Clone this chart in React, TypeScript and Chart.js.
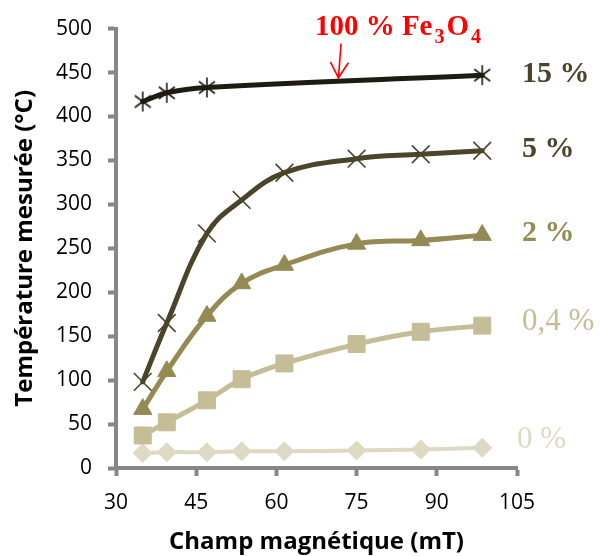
import React, { useEffect, useRef } from 'react';
import { Chart, registerables } from 'chart.js';

Chart.register(...registerables);

// ---- Data ----
const fieldAll = [35, 39.5, 47, 53.5, 61.5, 75, 87, 98.5];
const field15 = [35, 39.5, 47, 98.5];
const temp15 = [417, 427, 433, 447];
const temp5 = [98, 165, 267, 305, 336, 352, 357, 361];
const temp2 = [67, 110, 173, 210, 231, 255, 259, 265];
const temp04 = [37, 52, 77, 101, 119, 141, 155, 162];
const temp0 = [17, 18, 18, 19, 19, 20, 21, 23];

const seriesLabels = ['15 %', '5 %', '2 %', '0,4 %', '0 %'];
const seriesColors = ['#1e1c11', '#4a452a', '#948a54', '#c4bd97', '#ddd9c3'];
const labelColors = ['#4a452a', '#4a452a', '#948a54', '#c4bd97', '#ddd9c3'];
const labelValues = [448, 363, 267, 166, 32];
const labelBold = [true, true, true, false, false];

const xTitle = 'Champ magnétique (mT)';
const yTitle = 'Température mesurée (°C)';
const annotMain = '100 % Fe';
const annotSub1 = '3';
const annotO = 'O';
const annotSub2 = '4';
const annotX = 67.2;
const arrowFrom = { x: 72.1, y: 483 };
const arrowTo = { x: 71.6, y: 444 };

const toPts = (xs: number[], ys: number[]) => xs.map((v, i) => ({ x: v, y: ys[i] }));

function makeAsterisk(size: number, color: string, lw: number) {
  const c = document.createElement('canvas');
  c.width = size;
  c.height = size;
  const ctx = c.getContext('2d')!;
  ctx.strokeStyle = color;
  ctx.lineWidth = lw;
  const m = size / 2;
  const r = size / 2 - 1;
  const d = r * 0.8;
  ctx.beginPath();
  ctx.moveTo(m, m - r);
  ctx.lineTo(m, m + r);
  ctx.moveTo(m - d, m - d * 0.75);
  ctx.lineTo(m + d, m + d * 0.75);
  ctx.moveTo(m + d, m - d * 0.75);
  ctx.lineTo(m - d, m + d * 0.75);
  ctx.stroke();
  return c;
}

const annotPlugin = {
  id: 'annot',
  afterDraw(chart: any) {
    const { ctx, chartArea } = chart;
    const xs = chart.scales.x;
    const ys = chart.scales.y;
    ctx.save();
    // series labels at right
    ctx.textBaseline = 'middle';
    ctx.textAlign = 'left';
    seriesLabels.forEach((t, i) => {
      ctx.font = `${labelBold[i] ? 'bold 30px' : '31px'} "Liberation Serif"`;
      ctx.fillStyle = labelColors[i];
      const off = i === 4 ? 0 : 5;
      ctx.fillText(t, chartArea.right + off, ys.getPixelForValue(labelValues[i]));
    });
    // red annotation
    ctx.fillStyle = '#ff0000';
    ctx.strokeStyle = '#ff0000';
    ctx.textBaseline = 'alphabetic';
    const base = chartArea.top + 6;
    let px = xs.getPixelForValue(annotX);
    const big = 'bold 29px "Liberation Serif"';
    const small = 'bold 20px "Liberation Serif"';
    ctx.font = big;
    ctx.fillText(annotMain, px, base);
    px += ctx.measureText(annotMain).width + 2;
    ctx.font = small;
    ctx.fillText(annotSub1, px, base + 8);
    px += ctx.measureText(annotSub1).width + 2;
    ctx.font = big;
    ctx.fillText(annotO, px, base);
    px += ctx.measureText(annotO).width + 2;
    ctx.font = small;
    ctx.fillText(annotSub2, px, base + 8);
    // arrow
    const x1 = xs.getPixelForValue(arrowFrom.x);
    const y1 = ys.getPixelForValue(arrowFrom.y);
    const x2 = xs.getPixelForValue(arrowTo.x);
    const y2 = ys.getPixelForValue(arrowTo.y);
    ctx.lineWidth = 1.6;
    ctx.beginPath();
    ctx.moveTo(x1, y1);
    ctx.lineTo(x2, y2);
    ctx.moveTo(x2 - 8, y2 - 16);
    ctx.lineTo(x2, y2);
    ctx.lineTo(x2 + 10, y2 - 15);
    ctx.stroke();
    ctx.restore();
  },
};

export default function App() {
  const ref = useRef<HTMLCanvasElement | null>(null);
  useEffect(() => {
    document.body.style.margin = '0';
    if (!ref.current) return;
    const star = makeAsterisk(22, '#1e1c11', 1.6);
    const tickFont = { family: '"Open Sans"', size: 21 };
    const titleFont = { family: '"Open Sans"', size: 24, weight: 'bold' as const };
    const axisGrid = {
      display: true,
      drawOnChartArea: false,
      drawTicks: true,
      tickLength: 8,
      tickWidth: 4,
      tickColor: '#878787',
    };
    const common = {
      showLine: true,
      tension: 0.4,
      borderWidth: 5,
      borderJoinStyle: 'round' as const,
      borderCapStyle: 'round' as const,
    };
    const chart = new Chart(ref.current, {
      type: 'scatter',
      data: {
        datasets: [
          {
            ...common,
            label: seriesLabels[0],
            data: toPts(field15, temp15),
            borderColor: seriesColors[0],
            backgroundColor: seriesColors[0],
            pointStyle: star as any,
            pointRadius: 11,
          },
          {
            ...common,
            label: seriesLabels[1],
            data: toPts(fieldAll, temp5),
            borderColor: seriesColors[1],
            backgroundColor: seriesColors[1],
            pointStyle: 'crossRot',
            pointRadius: 12.5,
            pointBorderWidth: 1.6,
          },
          {
            ...common,
            label: seriesLabels[2],
            data: toPts(fieldAll, temp2),
            borderColor: seriesColors[2],
            backgroundColor: seriesColors[2],
            pointStyle: 'triangle',
            pointRadius: 10.5,
            pointBorderWidth: 1,
          },
          {
            ...common,
            label: seriesLabels[3],
            data: toPts(fieldAll, temp04),
            borderColor: seriesColors[3],
            backgroundColor: seriesColors[3],
            pointStyle: 'rect',
            pointRadius: 12,
            pointBorderWidth: 1,
          },
          {
            ...common,
            borderWidth: 4,
            label: seriesLabels[4],
            data: toPts(fieldAll, temp0),
            borderColor: seriesColors[4],
            backgroundColor: seriesColors[4],
            pointStyle: 'rectRot',
            pointRadius: 9.5,
            pointBorderWidth: 1,
          },
        ],
      },
      options: {
        responsive: false,
        animation: false,
        layout: { padding: { top: 27, right: 83, left: 0, bottom: 0 } },
        plugins: { legend: { display: false }, tooltip: { enabled: false } },
        scales: {
          x: {
            type: 'linear',
            min: 30,
            max: 105,
            ticks: { stepSize: 15, padding: 14, color: '#000', font: tickFont },
            grid: axisGrid,
            border: { display: true, color: '#878787', width: 4 },
            title: {
              display: true,
              text: xTitle,
              color: '#000',
              font: titleFont,
              padding: { top: 0, bottom: -1 },
            },
            afterFit: (s: any) => {
              s.height = 88;
            },
          },
          y: {
            type: 'linear',
            min: 0,
            max: 500,
            ticks: { stepSize: 50, padding: 16, color: '#000', font: tickFont },
            grid: axisGrid,
            border: { display: true, color: '#878787', width: 4 },
            title: {
              display: true,
              text: yTitle,
              color: '#000',
              font: titleFont,
              padding: { top: 11, bottom: 0 },
            },
            afterFit: (s: any) => {
              s.width = 116;
            },
          },
        },
      } as any,
      plugins: [annotPlugin],
    });
    return () => chart.destroy();
  }, []);
  return (
    <div style={{ width: 600, height: 556 }}>
      <canvas ref={ref} width={600} height={556} style={{ display: 'block' }} />
    </div>
  );
}
